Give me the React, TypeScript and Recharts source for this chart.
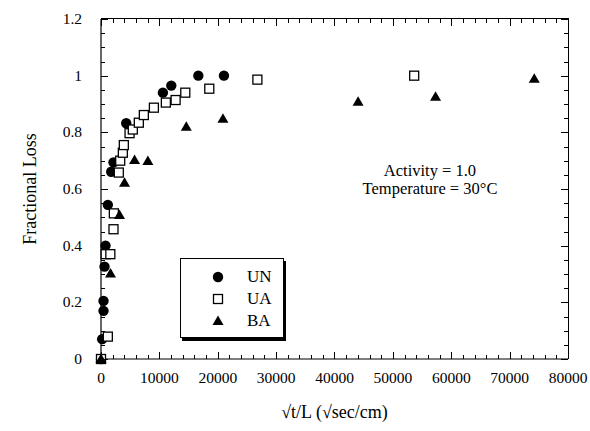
import { ScatterChart, Scatter, XAxis, YAxis, Label } from "recharts";

// values (x = sqrt(t)/L, y = fractional loss)
const unX = [0, 200, 430, 430, 600, 770, 1170, 1750, 2140, 4320, 10600, 12040, 16670, 21060];
const unY = [0, 0.07, 0.17, 0.205, 0.326, 0.4, 0.544, 0.661, 0.694, 0.832, 0.94, 0.965, 1.0, 1.0];

const uaX = [0, 1170, 800, 1600, 2140, 2200, 3050, 3290, 3740, 3910, 4890, 5450, 6480, 7340, 9060, 11110, 12780, 14440, 18550, 26790, 53650];
const uaY = [0, 0.079, 0.37, 0.37, 0.458, 0.514, 0.658, 0.7, 0.728, 0.755, 0.797, 0.81, 0.834, 0.861, 0.887, 0.905, 0.914, 0.94, 0.954, 0.986, 1.0];

const baX = [0, 1630, 3170, 4030, 5750, 8030, 14610, 20890, 44040, 57310, 74220];
const baY = [0, 0.302, 0.508, 0.622, 0.702, 0.699, 0.82, 0.848, 0.908, 0.926, 0.989];

const xLabels = [0, 10000, 20000, 30000, 40000, 50000, 60000, 70000, 80000];
const yLabels = [0, 0.2, 0.4, 0.6, 0.8, 1, 1.2];

const zip = (xs: number[], ys: number[]) => xs.map((x, i) => ({ x, y: ys[i] }));
const unData = zip(unX, unY);
const uaData = zip(uaX, uaY);
const baData = zip(baX, baY);

const FONT = "'Liberation Serif', 'Times New Roman', serif";
const W = 590;
const H = 431;
const M = { top: 19, right: 22, left: 0, bottom: 0 };
// plot box (layout only)
const PX = 101;
const PY = 19;
const PW = 467;
const PH = 340;

const Dot = (p: any) => <circle cx={p.cx} cy={p.cy} r={5.2} fill="#000" />;
const Box = (p: any) => (
  <rect x={p.cx - 4.5} y={p.cy - 4.5} width={9} height={9} fill="#fff" stroke="#000" strokeWidth={1.3} />
);
const Tri = (p: any) => (
  <polygon
    points={`${p.cx},${p.cy - 5.5} ${p.cx + 5.5},${p.cy + 4} ${p.cx - 5.5},${p.cy + 4}`}
    fill="#000"
  />
);

const XTick = (p: any) => (
  <text x={p.x} y={p.y + 24} textAnchor="middle" fill="#000" fontSize={15.5} fontFamily={FONT}>
    {p.payload.value}
  </text>
);
const YTick = (p: any) => (
  <text x={p.x - 19} y={p.y + 5} textAnchor="end" fill="#000" fontSize={15.5} fontFamily={FONT}>
    {Math.round(p.payload.value * 10) / 10}
  </text>
);

// inward tick strip along one side of the frame
const strip = (dir: "h" | "v", step: number, extra: any) => ({
  position: "absolute" as const,
  pointerEvents: "none" as const,
  background: `repeating-linear-gradient(${dir === "h" ? "to right" : "to bottom"}, #000 0px, #000 1px, transparent 1px, transparent ${step}px)`,
  ...extra,
});

export default function App() {
  const xMinor = PW / 40;
  const xMajor = PW / 8;
  const yMinor = PH / 24;
  const yMajor = PH / 6;
  return (
    <div style={{ position: "absolute", left: 0, top: 0, width: W, height: H, background: "#fff", fontFamily: FONT }}>
      <ScatterChart width={W} height={H} margin={M}>
        <XAxis
          dataKey="x"
          type="number"
          domain={[0, 80000]}
          ticks={xLabels}
          interval={0}
          height={72}
          tickSize={0}
          tickMargin={0}
          tickLine={false}
          axisLine={{ stroke: "#000", strokeWidth: 1.2 }}
          tick={XTick}
        >
          <Label
            value="√t/L (√sec/cm)"
            position="insideBottom"
            offset={13}
            style={{ fill: "#000", fontSize: 18, fontFamily: FONT }}
          />
        </XAxis>
        <YAxis
          dataKey="y"
          type="number"
          domain={[0, 1.2]}
          ticks={yLabels}
          interval={0}
          width={101}
          tickSize={0}
          tickMargin={0}
          tickLine={false}
          axisLine={{ stroke: "#000", strokeWidth: 1.2 }}
          tick={YTick}
        >
          <Label
            content={({ viewBox }: any) => {
              const cx = viewBox.x + 30;
              const cy = viewBox.y + viewBox.height / 2;
              return (
                <text
                  x={cx}
                  y={cy}
                  transform={`rotate(-90, ${cx}, ${cy})`}
                  textAnchor="middle"
                  dominantBaseline="central"
                  style={{ fill: "#000", fontSize: 18, fontFamily: FONT }}
                >
                  Fractional Loss
                </text>
              );
            }}
          />
        </YAxis>

        <Scatter name="UN" data={unData} shape={Dot} isAnimationActive={false} />
        <Scatter name="UA" data={uaData} shape={Box} isAnimationActive={false} />
        <Scatter name="BA" data={baData} shape={Tri} isAnimationActive={false} />
      </ScatterChart>

      {/* top and right sides of the frame */}
      <div
        style={{
          position: "absolute",
          left: PX,
          top: PY - 0.6,
          width: PW + 0.6,
          height: PH,
          borderTop: "1.2px solid #000",
          borderRight: "1.2px solid #000",
          boxSizing: "border-box",
          pointerEvents: "none",
        }}
      />
      {/* inward tick marks, all four sides */}
      <div style={strip("h", xMinor, { left: PX - 0.5, top: PY, width: PW + 1, height: 4 })} />
      <div style={strip("h", xMajor, { left: PX - 0.5, top: PY, width: PW + 1, height: 7 })} />
      <div style={strip("h", xMinor, { left: PX - 0.5, top: PY + PH - 4, width: PW + 1, height: 4 })} />
      <div style={strip("h", xMajor, { left: PX - 0.5, top: PY + PH - 7, width: PW + 1, height: 7 })} />
      <div style={strip("v", yMinor, { left: PX, top: PY - 0.5, width: 4, height: PH + 1 })} />
      <div style={strip("v", yMajor, { left: PX, top: PY - 0.5, width: 7, height: PH + 1 })} />
      <div style={strip("v", yMinor, { left: PX + PW - 4, top: PY - 0.5, width: 4, height: PH + 1 })} />
      <div style={strip("v", yMajor, { left: PX + PW - 7, top: PY - 0.5, width: 7, height: PH + 1 })} />

      {/* legend box */}
      <div
        style={{
          position: "absolute",
          left: 180,
          top: 258,
          width: 104,
          height: 80,
          border: "1.3px solid #000",
          boxShadow: "2px 3px 0 #000",
          boxSizing: "border-box",
          background: "#fff",
        }}
      >
        {[
          { name: "UN", el: <circle cx={8} cy={8} r={5.2} fill="#000" /> },
          { name: "UA", el: <rect x={3.5} y={3.5} width={9} height={9} fill="#fff" stroke="#000" strokeWidth={1.3} /> },
          { name: "BA", el: <polygon points="8,2.5 13.5,12 2.5,12" fill="#000" /> },
        ].map((r, i) => (
          <div key={r.name} style={{ position: "absolute", left: 29, top: 9 + i * 22, display: "flex", alignItems: "center", height: 18 }}>
            <svg width={16} height={16}>{r.el}</svg>
            <span style={{ marginLeft: 21, fontSize: 17, color: "#000", lineHeight: "18px" }}>{r.name}</span>
          </div>
        ))}
      </div>

      {/* annotation */}
      <div
        style={{
          position: "absolute",
          left: 330,
          top: 162,
          width: 200,
          textAlign: "center",
          fontSize: 16.5,
          lineHeight: "18px",
          color: "#000",
        }}
      >
        <div>Activity = 1.0</div>
        <div>Temperature = 30°C</div>
      </div>
    </div>
  );
}
